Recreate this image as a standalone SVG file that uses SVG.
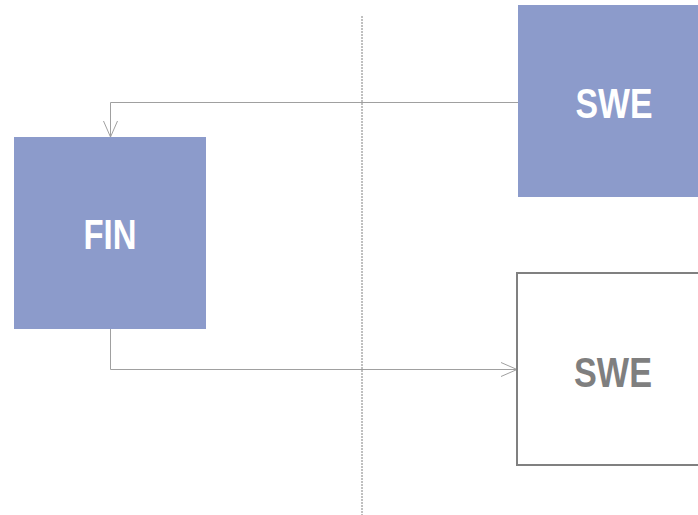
<svg xmlns="http://www.w3.org/2000/svg" width="698" height="515" viewBox="0 0 698 515">
<style>
.filled{fill:#8C9BCB;}
.outline{fill:#FFFFFF;stroke:#808080;stroke-width:2;}
.lbl{font-family:"Liberation Sans",Arial,sans-serif;font-weight:bold;font-size:43px;text-anchor:middle;}
.white{fill:#FFFFFF;}
.gray{fill:#7F7F7F;}
.conn{fill:none;stroke:#A0A0A0;stroke-width:1;}
</style>
<defs>
<marker id="arr" markerWidth="20" markerHeight="20" refX="17" refY="8" orient="auto" markerUnits="userSpaceOnUse">
<path d="M1,1 L17,8 L1,15" fill="none" stroke="#A0A0A0" stroke-width="1"/>
</marker>
</defs>
<rect width="698" height="515" fill="#FFFFFF"/>
<line x1="362" y1="16" x2="362" y2="515" stroke="#808080" stroke-width="1" stroke-dasharray="2,1"/>
<g id="connectors">
<path class="conn" d="M518,102.5 H110.5 V137" marker-end="url(#arr)"/>
<path class="conn" d="M110.5,329 V369.5 H517" marker-end="url(#arr)"/>
</g>
<g id="swe-top">
<rect class="filled" x="518" y="5" width="192" height="192"/>
<text class="lbl white" x="614" y="118" textLength="77" lengthAdjust="spacingAndGlyphs">SWE</text>
</g>
<g id="fin">
<rect class="filled" x="14" y="137" width="192" height="192"/>
<text class="lbl white" x="110" y="249" textLength="53" lengthAdjust="spacingAndGlyphs">FIN</text>
</g>
<g id="swe-bottom">
<rect class="outline" x="517" y="273" width="192" height="192"/>
<text class="lbl gray" x="613" y="387" textLength="78" lengthAdjust="spacingAndGlyphs">SWE</text>
</g>
</svg>
